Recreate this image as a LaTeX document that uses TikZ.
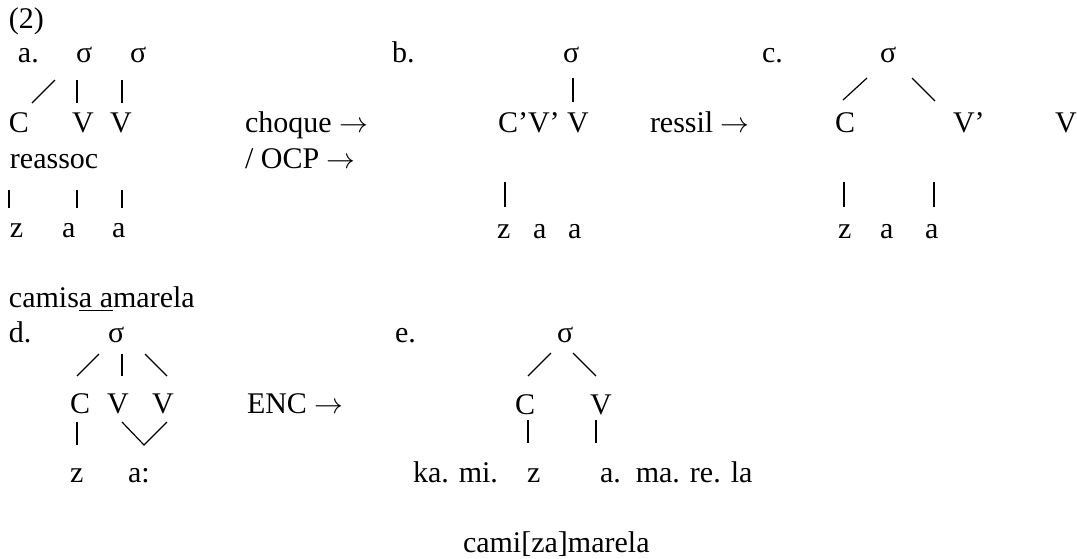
\documentclass[tikz,border=0pt]{standalone}
\usepackage{fontspec}
\setmainfont{Liberation Serif}
\begin{document}
\begin{tikzpicture}[x=0.5pt,y=-0.5pt,
  t/.style={anchor=base west, inner sep=0pt, outer sep=0pt, font=\fontsize{15}{18}\selectfont},
  ln/.style={line width=0.6pt, line cap=butt}]
\useasboundingbox (0,0) rectangle (1077,558);
% header
\node[t] (ex) at (9,28) {(2)};
% ---- a.
\node[t] (la) at (18,62) {a.};
\node[t] (sa1) at (76,62) {σ};
\node[t] (sa2) at (130,62) {σ};
\node[t] (aC) at (9,132) {C};
\node[t] (aV1) at (72,132) {V};
\node[t] (aV2) at (110,132) {V};
\node[t] (reas) at (10,168) {reassoc};
\node[t] (az) at (10,237) {z};
\node[t] (aa1) at (62,237) {a};
\node[t] (aa2) at (112,237) {a};
\draw[ln] (32,103) coordinate (a1s) -- (55,80) coordinate (a1e);
\draw[ln] (77,80) coordinate (a2s) -- (77,103) coordinate (a2e);
\draw[ln] (122,80) coordinate (a3s) -- (122,103) coordinate (a3e);
\draw[ln] (9,190) coordinate (a4s) -- (9,208) coordinate (a4e);
\draw[ln] (77,190) coordinate (a5s) -- (77,208) coordinate (a5e);
\draw[ln] (122,190) coordinate (a6s) -- (122,208) coordinate (a6e);
\node[t] (choque) at (245,132) {choque $\rightarrow$};
\node[t] (ocp) at (245,168) {/ OCP $\rightarrow$};
% ---- b.
\node[t] (lb) at (392,62) {b.};
\node[t] (sb) at (563,62) {σ};
\node[t] (bCV) at (498,132) {C’V’ V};
\node[t] (ressil) at (650,132) {ressil $\rightarrow$};
\node[t] (bz) at (497,238) {z};
\node[t] (ba1) at (533,238) {a};
\node[t] (ba2) at (568,238) {a};
\draw[ln] (573,78) coordinate (b1s) -- (573,102) coordinate (b1e);
\draw[ln] (505,182) coordinate (b2s) -- (505,207) coordinate (b2e);
% ---- c.
\node[t] (lc) at (762,62) {c.};
\node[t] (sc) at (880,62) {σ};
\node[t] (cC) at (835,132) {C};
\node[t] (cVp) at (953,132) {V’};
\node[t] (cV) at (1055,132) {V};
\node[t] (cz) at (838,238) {z};
\node[t] (ca1) at (880,238) {a};
\node[t] (ca2) at (925,238) {a};
\draw[ln] (843,100) coordinate (c1s) -- (867,78) coordinate (c1e);
\draw[ln] (912,78) coordinate (c2s) -- (935,101) coordinate (c2e);
\draw[ln] (844,182) coordinate (c3s) -- (844,207) coordinate (c3e);
\draw[ln] (934,182) coordinate (c4s) -- (934,207) coordinate (c4e);
% ---- d.
\node[t] (cam) at (9,307) {camis\underline{a a}marela};
\node[t] (ld) at (9,342) {d.};
\node[t] (sd) at (108,342) {σ};
\node[t] (dC) at (70,413) {C};
\node[t] (dV1) at (107,413) {V};
\node[t] (dV2) at (152,413) {V};
\node[t] (enc) at (247,413) {ENC $\rightarrow$};
\node[t] (dz) at (70,482) {z};
\node[t] (da) at (128,482) {a:};
\draw[ln] (77,376) coordinate (d1s) -- (99,354) coordinate (d1e);
\draw[ln] (122,354) coordinate (d2s) -- (122,376) coordinate (d2e);
\draw[ln] (145,354) coordinate (d3s) -- (167,376) coordinate (d3e);
\draw[ln] (77,422) coordinate (d4s) -- (77,445) coordinate (d4e);
\draw[ln] (122,422) coordinate (d5s) -- (144,445) coordinate (d5m) -- (167,422) coordinate (d5e);
% ---- e.
\node[t] (le) at (395,342) {e.};
\node[t] (se) at (557,342) {σ};
\node[t] (eC) at (515,414) {C};
\node[t] (eV) at (590,414) {V};
\node[t] (kami) at (413,482) {ka. mi.};
\node[t] (ez) at (527,482) {z};
\node[t] (erest) at (600,482) {a.\ \ ma. re. la};
\draw[ln] (528,376) coordinate (e1s) -- (551,353) coordinate (e1e);
\draw[ln] (573,353) coordinate (e2s) -- (596,376) coordinate (e2e);
\draw[ln] (528,420) coordinate (e3s) -- (528,443) coordinate (e3e);
\draw[ln] (596,420) coordinate (e4s) -- (596,443) coordinate (e4e);
\node[t] (final) at (463,552) {cami[za]marela};
\end{tikzpicture}
\end{document}
